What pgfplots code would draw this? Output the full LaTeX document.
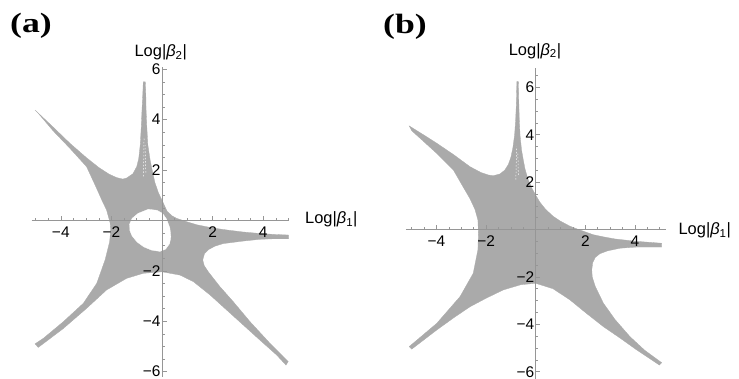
\documentclass[border=0pt]{standalone}
\usepackage{fontspec}
\setmainfont{Liberation Sans}
\newfontfamily\panelfont{Liberation Serif}
\usepackage{pgfplots}
\pgfplotsset{compat=1.18}

\definecolor{amoeba}{RGB}{170,170,170}
\definecolor{axisgray}{RGB}{150,150,150}

\pgfplotsset{
  amoebaaxis/.style={
    anchor=origin, axis lines=middle, axis on top, clip=false,
    axis line style={draw=axisgray, line width=0.6bp, -},
    tick style={draw=axisgray, line width=0.5bp},
    major tick length=4.5bp, minor tick length=2.5bp,
    tick align=inside,
    xtick={-4,-2,2,4}, xticklabels={−4,−2,2,4},
    ytick={-6,-4,-2,2,4,6}, yticklabels={−6,−4,−2,2,4,6},
    minor xtick={-5,-4.5,...,5},
    ticklabel style={font=\fontsize{15.5}{18}\selectfont, text=black},
    xticklabel style={yshift=-3bp},
    yticklabel style={xshift=2bp},
  },
  region/.style={fill=amoeba, draw=amoeba, line width=0.3bp},
  streak/.style={draw=white, line width=0.5bp, dash pattern=on 1.5bp off 1.8bp},
}

\newcommand{\logb}[1]{Log|\textit{β}\textsubscript{#1}|}
\newcommand{\tag}[1]{\scalebox{1.28}[1]{\panelfont\bfseries\fontsize{28}{30}\selectfont #1}}

\begin{document}
\begin{tikzpicture}
\path[use as bounding box] (0,0) rectangle (739bp,379bp);

% ---------------- panel (a) ----------------
\begin{axis}[amoebaaxis,
  at={(162bp,158.6bp)}, x=25.3bp, y=25.2bp,
  xmin=-5.15, xmax=5.0, ymin=-6.2, ymax=6.08,
  minor ytick={-6,-5.5,...,6}]
% outer boundary of the amoeba
\addplot[region] coordinates {
(-5.02,4.38) (-4.30,3.70) (-3.64,3.06) (-3.00,2.50) (-2.50,2.10) (-2.10,1.84)
(-1.80,1.70) (-1.55,1.64) (-1.40,1.68) (-1.15,1.85) (-1.00,2.13) (-0.92,2.45)
(-0.86,3.00) (-0.82,3.70) (-0.79,4.40) (-0.76,5.00) (-0.74,5.50) (-0.66,5.50)
(-0.64,5.00) (-0.63,4.40) (-0.60,3.70) (-0.56,3.00) (-0.47,2.40) (-0.40,2.05)
(-0.28,1.50) (-0.15,1.12) (-0.05,0.90) (0.00,0.81) (0.10,0.58) (0.21,0.35)
(0.40,0.18) (0.58,0.08) (1.00,-0.06) (1.40,-0.18) (2.00,-0.30) (2.56,-0.38)
(3.20,-0.46) (3.87,-0.52) (4.50,-0.56) (5.00,-0.58) (5.00,-0.73) (4.40,-0.73)
(3.87,-0.75) (3.21,-0.82) (2.42,-0.92) (2.10,-1.02) (1.85,-1.15) (1.68,-1.32)
(1.61,-1.57) (1.67,-1.80) (1.83,-2.04) (2.29,-2.63) (2.82,-3.23) (3.48,-4.02)
(4.27,-4.88) (4.99,-5.60) (4.90,-5.74) (4.53,-5.34) (3.87,-4.75) (3.21,-4.15)
(2.56,-3.56) (1.90,-2.96) (1.24,-2.43) (0.71,-2.17) (0.00,-2.04) (-0.74,-2.10)
(-1.40,-2.30) (-2.19,-2.76) (-2.98,-3.49) (-3.90,-4.29) (-4.89,-5.04) (-5.02,-4.90)
(-4.69,-4.68) (-3.90,-4.02) (-3.11,-3.29) (-2.58,-2.50) (-2.25,-1.57) (-2.07,-0.85)
(-2.03,-0.40) (-2.05,-0.10) (-2.19,0.41) (-2.38,0.81) (-2.62,1.35) (-2.98,2.13)
(-3.64,2.86) (-4.30,3.55) (-4.89,4.25)
} -- cycle;
% the bounded complement component (hole)
\addplot[fill=white, draw=white, line width=0.3bp] coordinates {
(-0.54,0.44) (-0.94,0.28) (-1.18,0.08) (-1.28,-0.15) (-1.27,-0.40) (-1.18,-0.62)
(-0.98,-0.86) (-0.72,-1.05) (-0.41,-1.18) (-0.08,-1.23) (0.14,-1.14) (0.30,-0.92)
(0.35,-0.65) (0.31,-0.30) (0.18,0.05) (0.02,0.28) (-0.20,0.40)
} -- cycle;
% sampling streaks inside the upper tentacle
\addplot[streak] coordinates {(-0.73,1.75) (-0.71,3.30)};
\addplot[streak] coordinates {(-0.64,1.90) (-0.67,3.00)};
\node[anchor=base west, font=\fontsize{16.5}{19}\selectfont] at (axis cs:5.52,-0.12) {\logb{1}};
\node[anchor=base, font=\fontsize{16.5}{19}\selectfont] at (axis cs:-0.05,6.50) {\logb{2}};
\end{axis}

% ---------------- panel (b) ----------------
\begin{axis}[amoebaaxis,
  at={(535.7bp,149.5bp)}, x=24.8bp, y=23.7bp,
  xmin=-5.24, xmax=5.24, ymin=-6.3, ymax=6.8,
  minor ytick={-6,-5.5,...,6.5}]
\addplot[region] coordinates {
(-5.10,4.37) (-4.50,3.98) (-3.99,3.64) (-3.30,3.15) (-2.65,2.65) (-2.20,2.40)
(-1.91,2.30) (-1.71,2.27) (-1.45,2.34) (-1.25,2.50) (-1.10,2.75) (-1.00,3.05)
(-0.92,3.45) (-0.85,4.00) (-0.81,4.60) (-0.78,5.30) (-0.77,5.80) (-0.76,6.24)
(-0.70,6.24) (-0.69,5.80) (-0.68,5.30) (-0.66,4.60) (-0.63,3.95) (-0.57,3.35)
(-0.50,2.93) (-0.43,2.55) (-0.32,2.15) (-0.16,1.75) (0.00,1.45) (0.17,1.15)
(0.40,0.85) (0.71,0.55) (1.00,0.35) (1.38,0.14) (1.65,0.03) (2.32,-0.22)
(2.73,-0.31) (3.20,-0.40) (4.07,-0.50) (5.08,-0.58) (5.08,-0.74) (4.07,-0.74)
(3.40,-0.79) (2.90,-0.90) (2.59,-1.02) (2.40,-1.18) (2.30,-1.40) (2.26,-1.70)
(2.28,-2.00) (2.40,-2.40) (2.73,-3.11) (3.20,-3.80) (3.80,-4.52) (4.40,-5.10)
(5.08,-5.62) (4.99,-5.72) (4.07,-5.08) (3.40,-4.58) (2.73,-4.10) (2.00,-3.50)
(1.38,-2.97) (0.70,-2.50) (0.00,-2.27) (-0.60,-2.33) (-1.31,-2.55) (-2.00,-2.90)
(-2.65,-3.26) (-3.30,-3.72) (-3.99,-4.24) (-5.00,-5.05) (-5.10,-4.94) (-3.99,-3.96)
(-3.05,-2.83) (-2.52,-1.85) (-2.33,-0.86) (-2.31,-0.16) (-2.33,0.40) (-2.45,0.85)
(-2.65,1.30) (-2.90,1.75) (-3.32,2.51) (-3.99,3.21) (-5.00,4.17)
} -- cycle;
\addplot[streak] coordinates {(-0.80,2.10) (-0.77,3.50)};
\addplot[streak] coordinates {(-0.70,2.30) (-0.72,3.20)};
\node[anchor=base west, font=\fontsize{16.5}{19}\selectfont] at (axis cs:5.62,-0.23) {\logb{1}};
\node[anchor=base, font=\fontsize{16.5}{19}\selectfont] at (axis cs:-0.03,7.36) {\logb{2}};
\end{axis}

% panel tags
\node[anchor=base west, inner sep=0pt] at (10bp,346bp) {\tag{(a)}};
\node[anchor=base west, inner sep=0pt] at (383bp,345bp) {\tag{(b)}};
\end{tikzpicture}
\end{document}
